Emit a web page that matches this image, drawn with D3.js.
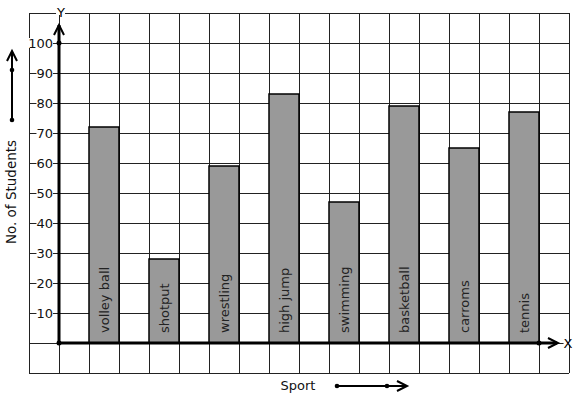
<!DOCTYPE html>
<html><head><meta charset="utf-8">
<script src="https://cdn.jsdelivr.net/npm/d3@7"></script>
<style>body{margin:0;background:#fff}svg{display:block}text{font-family:"DejaVu Sans",sans-serif}</style>
</head><body>
<script>
const sports = ["volley ball","shotput","wrestling","high jump","swimming","basketball","carroms","tennis"];
const students = [72,28,59,83,47,79,65,77];
const yTicks = [10,20,30,40,50,60,70,80,90,100];
const xLabel = "Sport";
const yLabel = "No. of Students";

const W=577,H=399;
const svg=d3.select("body").append("svg").attr("width",W).attr("height",H);
const gridL=29, gridR=569, gridT=13, gridB=373, cell=30;
const x0=59, y0=343;
const x=d3.scaleLinear().domain([0,18]).range([gridL,gridR]);
const y=d3.scaleLinear().domain([0,100]).range([y0,43]);

const g=svg.append("g");
for(let i=0;i<=18;i++) g.append("line").attr("x1",x(i)).attr("x2",x(i)).attr("y1",gridT).attr("y2",gridB).attr("stroke","#222").attr("stroke-width",1).attr("shape-rendering","crispEdges");
for(let j=0;j<=12;j++){const yy=gridT+j*cell; g.append("line").attr("x1",gridL).attr("x2",gridR).attr("y1",yy).attr("y2",yy).attr("stroke","#222").attr("stroke-width",1).attr("shape-rendering","crispEdges");}

sports.forEach((s,i)=>{
  const xl=x(2+2*i), xr=x(3+2*i);
  g.append("rect").attr("x",xl).attr("y",y(students[i])).attr("width",xr-xl).attr("height",y0-y(students[i]))
   .attr("fill","#999").attr("stroke","#000").attr("stroke-width",1.5);
  g.append("text").attr("transform",`translate(${(xl+xr)/2+4.5},${y0-10}) rotate(-90)`)
   .attr("font-size",13).attr("fill","#222").text(s);
});

yTicks.forEach(t=>{
  const tx=g.append("text").attr("x",53).attr("y",y(t)+4.5).attr("text-anchor","end").attr("font-size",13).attr("fill","#111").text(t);
  const bb=tx.node().getBBox();
  g.insert("rect",()=>tx.node()).attr("x",bb.x).attr("y",y(t)-5).attr("width",bb.width).attr("height",10).attr("fill","#fff");
});

function chevronUp(cx,cy){g.append("path").attr("d",`M${cx-5},${cy+10}L${cx},${cy}L${cx+5},${cy+10}`).attr("fill","none").attr("stroke","#000").attr("stroke-width",2);}
function chevronRight(cx,cy){g.append("path").attr("d",`M${cx-10},${cy-5}L${cx},${cy}L${cx-10},${cy+5}`).attr("fill","none").attr("stroke","#000").attr("stroke-width",2);}
g.append("line").attr("x1",x0).attr("x2",x0).attr("y1",y0).attr("y2",25).attr("stroke","#000").attr("stroke-width",3);
chevronUp(x0,25);
g.append("line").attr("x1",x0).attr("x2",557).attr("y1",y0).attr("y2",y0).attr("stroke","#000").attr("stroke-width",3);
chevronRight(558,y0);
[[x0,y0],[x0,y(100)],[539,y0]].forEach(p=>g.append("circle").attr("cx",p[0]).attr("cy",p[1]).attr("r",2.5).attr("fill","#000"));
const yl=g.append("text").attr("x",x0+2).attr("y",gridT+4).attr("text-anchor","middle").attr("font-size",13).text("Y");
{const bb=yl.node().getBBox(); g.insert("rect",()=>yl.node()).attr("x",bb.x).attr("y",gridT-1).attr("width",bb.width).attr("height",3).attr("fill","#fff");}
const xlL=g.append("text").attr("x",568).attr("y",y0+5).attr("text-anchor","middle").attr("font-size",13).text("X");
{const bb=xlL.node().getBBox(); g.insert("rect",()=>xlL.node()).attr("x",bb.x).attr("y",y0-2).attr("width",bb.width).attr("height",4).attr("fill","#fff");}

g.append("text").attr("transform","translate(16,192) rotate(-90)").attr("text-anchor","middle").attr("font-size",13.5).attr("fill","#111").text(yLabel);
g.append("line").attr("x1",12).attr("x2",12).attr("y1",120).attr("y2",52).attr("stroke","#000").attr("stroke-width",2);
chevronUp(12,51);
[[12,120],[12,70]].forEach(p=>g.append("circle").attr("cx",p[0]).attr("cy",p[1]).attr("r",2.3).attr("fill","#000"));

g.append("text").attr("x",298).attr("y",390).attr("text-anchor","middle").attr("font-size",13).attr("fill","#111").text(xLabel);
g.append("line").attr("x1",337).attr("x2",406).attr("y1",386).attr("y2",386).attr("stroke","#000").attr("stroke-width",2);
chevronRight(407,386);
[[337,386],[387,386]].forEach(p=>g.append("circle").attr("cx",p[0]).attr("cy",p[1]).attr("r",2.3).attr("fill","#000"));
</script>
</body></html>
